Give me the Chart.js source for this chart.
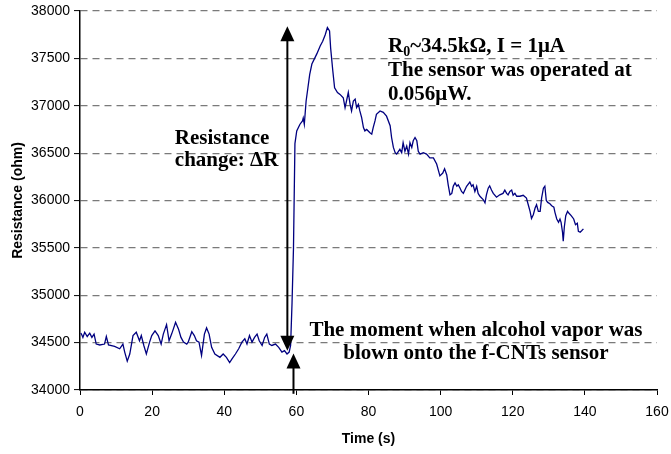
<!DOCTYPE html>
<html>
<head>
<meta charset="utf-8">
<script src="https://cdn.jsdelivr.net/npm/chart.js@4"></script>
<style>
  html, body { margin: 0; padding: 0; background: #fff; }
  canvas { display: block; }
</style>
</head>
<body>
<canvas id="chart" width="671" height="454"></canvas>
<script>
// time (s) and resistance (ohm)
let time = [0.2, 0.4, 0.8, 1.3, 2.0, 2.7, 3.3, 3.9, 4.5, 5.5, 6.8, 7.3, 7.9, 9.6, 11.0, 11.9, 12.4, 13.1, 13.8, 14.7,
    15.6, 16.5, 17.0, 17.7, 18.4, 19.3, 19.9, 20.8, 21.7, 22.5, 23.1, 24.0, 24.7, 25.4, 25.9, 26.5, 27.3, 28.0, 28.7, 29.6,
    30.0, 31.0, 31.7, 32.3, 33.0, 33.7, 34.5, 35.1, 35.8, 36.5, 37.4, 38.8, 39.7, 40.6, 41.5, 42.2, 43.1, 44.0, 44.9, 45.7,
    46.3, 47.0, 47.7, 48.4, 49.1, 49.7, 50.5, 51.2, 51.8, 52.5, 53.2, 54.2, 55.1, 56.0, 56.7, 57.4, 58.0, 58.4, 58.8, 59.2,
    59.6, 60.1, 61.0, 61.7, 61.9, 62.2, 62.7, 63.2, 63.7, 64.3, 65.7, 66.6, 67.3, 68.0, 68.6, 69.2, 69.5, 70.1, 70.6, 71.4,
    72.1, 73.0, 73.5, 73.9, 74.4, 74.9, 75.3, 75.8, 76.3, 76.7, 77.2, 77.6, 78.1, 78.6, 79.0, 79.5, 80.4, 80.9, 81.3, 81.8,
    82.2, 83.2, 84.1, 85.0, 86.0, 86.4, 86.9, 87.4, 87.8, 88.7, 89.2, 89.6, 90.1, 90.6, 91.1, 91.5, 92.0, 92.4, 92.9, 93.4,
    93.8, 94.3, 95.2, 96.1, 97.0, 98.0, 98.9, 99.8, 100.6, 101.1, 101.7, 102.1, 102.6, 103.1, 103.5, 104.0, 104.5, 104.9, 105.4, 105.8,
    106.3, 107.2, 108.1, 108.6, 109.0, 109.5, 110.0, 110.4, 110.9, 111.8, 112.3, 112.7, 113.2, 113.6, 114.1, 114.6, 115.5, 116.4, 117.3, 117.8,
    118.3, 118.7, 119.2, 119.7, 120.1, 120.6, 121.1, 122.0, 122.9, 123.8, 124.3, 124.8, 125.2, 125.7, 126.2, 126.6, 127.1, 127.6, 128.0, 128.5,
    128.9, 129.3, 129.7, 130.3, 130.8, 131.4, 131.7, 132.2, 132.7, 133.1, 133.4, 133.8, 134.0, 134.3, 134.7, 135.2, 135.6, 136.2, 136.9, 137.4,
    137.9, 138.2, 138.7, 139.1, 139.6]

let resistance = [34600, 34590, 34555, 34610, 34565, 34600, 34555, 34590, 34485, 34475, 34485, 34565, 34475, 34460, 34435, 34485, 34400, 34305, 34380, 34575,
    34610, 34520, 34575, 34470, 34380, 34505, 34575, 34625, 34575, 34485, 34590, 34690, 34520, 34590, 34645, 34715, 34645, 34555, 34505, 34485,
    34505, 34615, 34575, 34520, 34505, 34365, 34590, 34655, 34590, 34450, 34380, 34345, 34380, 34345, 34290, 34330, 34380, 34435, 34505, 34540,
    34485, 34575, 34505, 34555, 34590, 34520, 34470, 34555, 34590, 34485, 34470, 34485, 34450, 34400, 34415, 34380, 34400, 34470, 34920, 35500,
    36600, 36735, 36805, 36840, 36870, 36805, 37050, 37190, 37330, 37440, 37550, 37630, 37680, 37750, 37825, 37790, 37610, 37370, 37190, 37140,
    37120, 37085, 36980, 37050, 37140, 37015, 36945, 37050, 37070, 36980, 37015, 36945, 36875, 36770, 36735, 36750, 36715, 36700, 36770, 36840,
    36910, 36945, 36930, 36890, 36790, 36665, 36560, 36505, 36490, 36540, 36505, 36610, 36520, 36575, 36490, 36610, 36560, 36630, 36665, 36630,
    36520, 36490, 36505, 36490, 36450, 36450, 36385, 36260, 36290, 36335, 36270, 36165, 36060, 36075, 36150, 36185, 36150, 36165, 36130, 36095,
    36075, 36150, 36195, 36150, 36165, 36095, 36150, 36075, 36045, 36010, 35975, 36060, 36130, 36155, 36110, 36075, 36035, 36060, 36075, 36110,
    36075, 36060, 36095, 36110, 36055, 36075, 36045, 36045, 36055, 36025, 35955, 35885, 35810, 35850, 35920, 35955, 35885, 35885, 36025, 36130,
    36150, 36000, 35980, 35965, 35945, 35930, 35875, 35805, 35770, 35805, 35770, 35665, 35570, 35720, 35840, 35885, 35865, 35840, 35805, 35745,
    35760, 35675, 35665, 35680, 35700]

let xMin = 0, xMax = 160, xStep = 20
let yMin = 34000, yMax = 38000, yStep = 500

// annotation anchors in data units
let bigArrow = { t: 57.5, top: 37840, bottom: 34415 }
let smallArrow = { t: 59.2, tip: 34385, tail: 33960 }
let leftNote = { t: 26.3, lines: ['Resistance', 'change: \u0394R'], r: [36650, 36418] }
let topNote = { t: 85.4, r: [37620, 37367, 37114] }
let bottomNote = { t: 109.8, lines: ['The moment when alcohol vapor was', 'blown onto the f-CNTs sensor'], r: [34624, 34381] }

const serif = 'bold 21px "Liberation Serif", "Times New Roman", serif'

function head(ctx, px, py, dir) {
    // dir = -1 points up, 1 points down
    ctx.beginPath()
    ctx.moveTo(px, py)
    ctx.lineTo(px - 7, py - dir * 15)
    ctx.lineTo(px + 7, py - dir * 15)
    ctx.closePath()
    ctx.fill()
}

const notes = {
    id: 'notes',
    afterDraw(chart) {
        const { ctx, scales: { x, y } } = chart
        ctx.save()
        ctx.fillStyle = '#000'
        ctx.strokeStyle = '#000'
        ctx.lineWidth = 2

        // double arrow (resistance change)
        let ax = x.getPixelForValue(bigArrow.t)
        let aTop = y.getPixelForValue(bigArrow.top)
        let aBot = y.getPixelForValue(bigArrow.bottom)
        ctx.beginPath()
        ctx.moveTo(ax, aTop + 10)
        ctx.lineTo(ax, aBot - 10)
        ctx.stroke()
        head(ctx, ax, aTop, -1)
        head(ctx, ax, aBot, 1)

        // up arrow (moment of exposure)
        let bx = x.getPixelForValue(smallArrow.t)
        let bTip = y.getPixelForValue(smallArrow.tip)
        let bTail = y.getPixelForValue(smallArrow.tail)
        ctx.beginPath()
        ctx.moveTo(bx, bTail)
        ctx.lineTo(bx, bTip + 10)
        ctx.stroke()
        head(ctx, bx, bTip, -1)

        ctx.font = serif
        ctx.textBaseline = 'middle'

        ctx.textAlign = 'left'
        leftNote.lines.forEach((s, i) => {
            ctx.fillText(s, x.getPixelForValue(leftNote.t), y.getPixelForValue(leftNote.r[i]))
        })

        // R0~34.5kOhm line with subscript
        let tx = x.getPixelForValue(topNote.t)
        let ty = y.getPixelForValue(topNote.r[0])
        ctx.fillText('R', tx, ty)
        let w = ctx.measureText('R').width
        ctx.font = 'bold 14px "Liberation Serif", "Times New Roman", serif'
        ctx.fillText('0', tx + w, ty + 5)
        let w0 = ctx.measureText('0').width
        ctx.font = serif
        ctx.fillText('~34.5k\u03A9, I = 1\u03BCA', tx + w + w0, ty)
        ctx.fillText('The sensor was operated at', tx, y.getPixelForValue(topNote.r[1]))
        ctx.fillText('0.056\u03BCW.', tx, y.getPixelForValue(topNote.r[2]))

        ctx.textAlign = 'center'
        bottomNote.lines.forEach((s, i) => {
            ctx.fillText(s, x.getPixelForValue(bottomNote.t), y.getPixelForValue(bottomNote.r[i]))
        })
        ctx.restore()
    }
}

const ctx = document.getElementById('chart').getContext('2d')
const myChart = new Chart(ctx, {
    type: 'line',
    data: {
        datasets: [{
            data: time.map((t, i) => ({ x: t, y: resistance[i] })),
            borderColor: '#000080',
            borderWidth: 1.3,
            pointRadius: 0,
            tension: 0,
            fill: false
        }]
    },
    options: {
        responsive: false,
        animation: false,
        layout: { padding: { left: 0, top: 11, right: 14, bottom: 0 } },
        plugins: { legend: { display: false }, tooltip: { enabled: false } },
        scales: {
            x: {
                type: 'linear',
                min: xMin,
                max: xMax,
                afterFit: s => { s.height = 64; s.paddingLeft = 0; s.paddingRight = 0 },
                ticks: { stepSize: xStep, color: '#000', padding: 9, maxRotation: 0, font: { family: 'Liberation Sans', size: 14 }, callback: v => String(v) },
                grid: { drawOnChartArea: false, tickLength: 5, tickColor: '#000', tickWidth: 1 },
                border: { color: '#000', width: 1.5 },
                title: { display: true, text: 'Time (s)', color: '#000', padding: { top: 0, bottom: 6 }, font: { family: 'Liberation Sans', size: 14, weight: 'bold' } }
            },
            y: {
                min: yMin,
                max: yMax,
                afterFit: s => { s.width = 80; s.paddingTop = 0; s.paddingBottom = 0 },
                ticks: { stepSize: yStep, color: '#000', padding: 4, font: { family: 'Liberation Sans', size: 14 }, callback: v => String(v) },
                grid: { color: '#7a7a7a', lineWidth: 1.2, tickLength: 6, tickColor: '#000', tickWidth: 1, tickBorderDash: [] },
                border: { color: '#000', width: 1.5, dash: [7, 5] },
                title: { display: true, text: 'Resistance (ohm)', color: '#000', padding: { top: 10, bottom: 0 }, font: { family: 'Liberation Sans', size: 14, weight: 'bold' } }
            }
        }
    },
    plugins: [notes]
})
</script>
</body>
</html>
